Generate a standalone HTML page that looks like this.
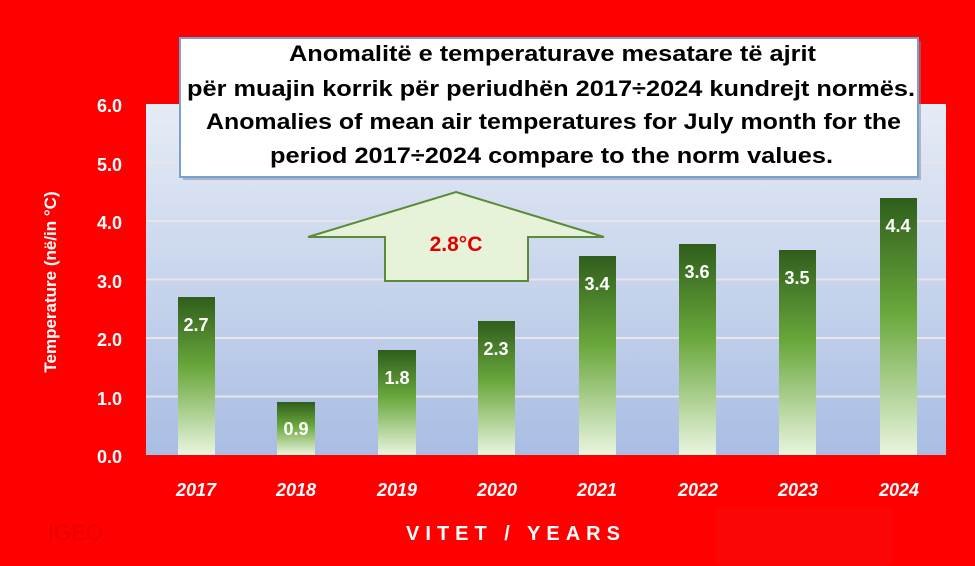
<!DOCTYPE html>
<html><head><meta charset="utf-8"><style>
body{margin:0;width:975px;height:566px;background:#ff0000;overflow:hidden;font-family:"Liberation Sans",sans-serif;position:relative}
</style></head><body>
<svg width="975" height="566" style="position:absolute;left:0;top:0">
<defs>
<linearGradient id="bg" x1="0" y1="0" x2="0" y2="1"><stop offset="0" stop-color="#e6ecf6"/><stop offset="1" stop-color="#a9bde3"/></linearGradient>
<linearGradient id="bar" x1="0" y1="0" x2="0" y2="1"><stop offset="0" stop-color="#2f5e1c"/><stop offset="0.45" stop-color="#6aa83c"/><stop offset="1" stop-color="#eaf5e0"/></linearGradient>
</defs>
<rect x="146" y="104" width="800" height="351" fill="url(#bg)"/>
<g stroke="#e8e4e8" stroke-width="2">
<line x1="146" y1="396.5" x2="946" y2="396.5"/><line x1="146" y1="338" x2="946" y2="338"/>
<line x1="146" y1="279.5" x2="946" y2="279.5"/><line x1="146" y1="221" x2="946" y2="221"/>
<line x1="146" y1="162.5" x2="946" y2="162.5"/>
</g>
<g fill="url(#bar)">
<rect x="178" y="297" width="37" height="158"/>
<rect x="277" y="402" width="38" height="53"/>
<rect x="378" y="350" width="38" height="105"/>
<rect x="478" y="321" width="37" height="134"/>
<rect x="579" y="256" width="37" height="199"/>
<rect x="679" y="244" width="37" height="211"/>
<rect x="779" y="250" width="37" height="205"/>
<rect x="880" y="198" width="37" height="257"/>
</g>
<polygon points="456,192 604,237 528,237 528,281 385,281 385,237 308,237" fill="#e6f3d8" stroke="#5a8a3a" stroke-width="2"/>
<text x="456" y="251" fill="#e00000" font-size="21" font-weight="bold" text-anchor="middle" font-family="Liberation Sans">2.8°C</text>
<g fill="#fff" font-size="18" font-weight="bold" text-anchor="middle" font-family="Liberation Sans">
<text x="196" y="331">2.7</text><text x="296" y="435">0.9</text><text x="397" y="384">1.8</text>
<text x="496" y="355">2.3</text><text x="597" y="290">3.4</text><text x="697" y="278">3.6</text>
<text x="797" y="284">3.5</text><text x="898" y="232">4.4</text>
</g>
<g fill="#fff" font-size="18" font-weight="bold" text-anchor="end" font-family="Liberation Sans">
<text x="122" y="463">0.0</text><text x="122" y="405">1.0</text><text x="122" y="346">2.0</text>
<text x="122" y="288">3.0</text><text x="122" y="229">4.0</text><text x="122" y="171">5.0</text><text x="122" y="112">6.0</text>
</g>
<g fill="#fff" font-size="18" font-weight="bold" font-style="italic" text-anchor="middle" font-family="Liberation Sans">
<text x="196" y="496">2017</text><text x="296" y="496">2018</text><text x="397" y="496">2019</text><text x="497" y="496">2020</text>
<text x="597" y="496">2021</text><text x="698" y="496">2022</text><text x="798" y="496">2023</text><text x="899" y="496">2024</text>
</g>
<text x="516" y="540" fill="#fff" font-size="20" font-weight="bold" text-anchor="middle" letter-spacing="6" font-family="Liberation Sans">VITET / YEARS</text>
<text x="48" y="540" fill="#e80000" font-size="22" font-family="Liberation Sans">IGEO</text>
<rect x="716" y="508" width="176" height="58" rx="6" fill="#fa0606"/>
<text transform="translate(56,282) rotate(-90)" fill="#fff" font-size="17" font-weight="bold" text-anchor="middle" font-family="Liberation Sans">Temperature (në/in °C)</text>
<rect x="183" y="41" width="738" height="139" fill="#7a8aa0" opacity="0.5"/>
<rect x="180" y="38" width="738" height="139" fill="#fff" stroke="#7aa0d0" stroke-width="2"/>
<g fill="#000" font-size="22" font-weight="bold" font-family="Liberation Sans">
<text x="289" y="61" textLength="527" lengthAdjust="spacingAndGlyphs">Anomalitë e temperaturave mesatare të ajrit</text>
<text x="187" y="96" textLength="728" lengthAdjust="spacingAndGlyphs">për muajin korrik për periudhën 2017÷2024  kundrejt normës.</text>
<text x="206" y="129" textLength="695" lengthAdjust="spacingAndGlyphs">Anomalies of mean air temperatures for July month for the</text>
<text x="270" y="163" textLength="563" lengthAdjust="spacingAndGlyphs">period 2017÷2024  compare to the norm values.</text>
</g>
</svg>
</body></html>
